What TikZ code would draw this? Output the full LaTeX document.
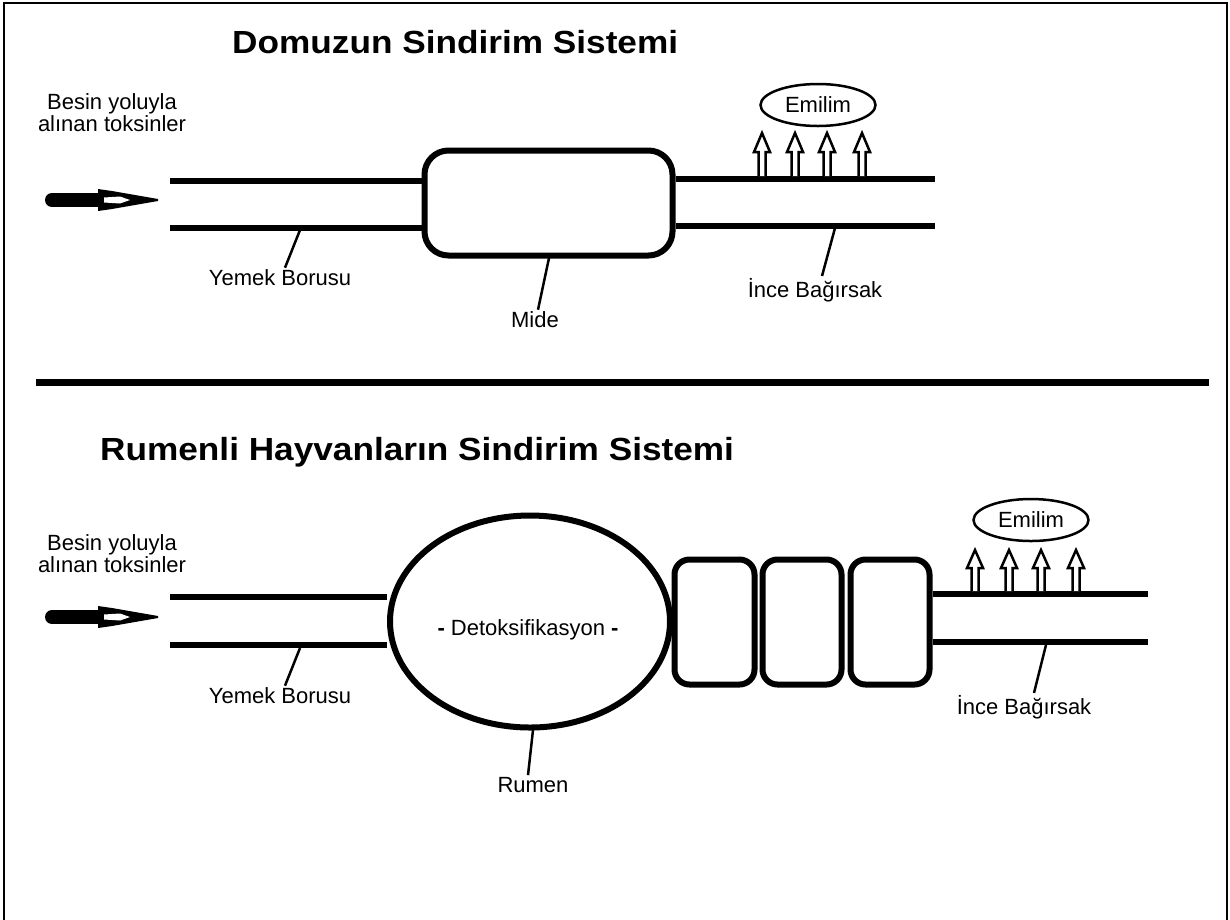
\documentclass[tikz,border=0pt]{standalone}
\usepackage{fontspec}
\setmainfont{Liberation Sans}
\newfontfamily\heavyfont[FakeStretch=1.1]{Liberation Sans}
\usetikzlibrary{shapes.geometric, positioning}

\tikzset{
  tube/.style={line width=6pt},
  organ/.style={draw, line width=6pt, inner sep=0pt},
  lbl/.style={font=\fontsize{22}{25}\selectfont, inner sep=2pt},
  ttl/.style={font=\fontsize{32}{35}\selectfont\heavyfont\bfseries, anchor=west, inner sep=0pt},
  tick/.style={line width=2.5pt},
  absorb/.style={draw, ellipse, line width=2.5pt, minimum width=115pt, minimum height=42pt, inner sep=0pt, font=\fontsize{22}{25}\selectfont},
  hollow/.style={draw, fill=white, line width=2.5pt, line join=miter},
}

\begin{document}
\begin{tikzpicture}[x=1pt, y=-1pt]
  \useasboundingbox (0,0) rectangle (1230,919);
  % frame, open at the bottom
  \draw[line width=2pt] (4,925) -- (4,3) -- (1227,3) -- (1227,925);

  % ---------------- pig ----------------
  \node[ttl] (pigTitle) at (232,42) {Domuzun Sindirim Sistemi};
  \node[lbl, align=center] (pigFood) at (112,113) {Besin yoluyla\\[-3pt]alınan toksinler};
  % input arrow
  \draw[line width=14pt, line cap=round] (52,200) -- (104,200);
  \fill (98,189) -- (112,191) -- (158,199) -- (158,201) -- (112,209) -- (98,211) -- cycle;
  \fill[white] (104,197.5) -- (120,196.5) -- (130,200) -- (120,203.5) -- (104,202.5) -- cycle;
  % stomach
  \node[organ, rounded corners=24pt, minimum width=248pt, minimum height=105pt] (mide) at (548.5,203) {};
  \draw[tube] (170,181) -- (mide.west |- 0,181);
  \draw[tube] (170,228) -- (mide.west |- 0,228);
  \draw[tube] (mide.east |- 0,179) -- (935,179);
  \draw[tube] (mide.east |- 0,226) -- (935,226);
  % absorption
  \node[absorb] (pigAbs) at (818,105) {Emilim};
  \foreach \x in {762,795,827,862}
    \draw[hollow] (\x-3.5,176) -- (\x-3.5,152) -- (\x-8,152) -- (\x,133)
      -- (\x+8,152) -- (\x+3.5,152) -- (\x+3.5,176);
  % labels
  \node[lbl] (pigEso) at (280,278) {Yemek Borusu};
  \node[lbl] (pigSto) at (535,320) {Mide};
  \node[lbl] (pigInt) at (815,290) {İnce Bağırsak};
  \coordinate (pigEsoT) at (300,230);
  \coordinate (pigStoT) at (549,258);
  \coordinate (pigIntT) at (835,228);
  \draw[tick] (pigEsoT) -- ([xshift=5pt]pigEso.north);
  \draw[tick] (pigStoT) -- ([xshift=3pt]pigSto.north);
  \draw[tick] (pigIntT) -- ([xshift=7pt]pigInt.north);

  % divider
  \draw[line width=7pt] (36,382) -- (1209,382);

  % ---------------- ruminant ----------------
  \node[ttl] (rumTitle) at (100,452) {Rumenli Hayvanların Sindirim Sistemi};
  \node[lbl, align=center] (rumFood) at (112,554) {Besin yoluyla\\[-3pt]alınan toksinler};
  % input arrow
  \draw[line width=14pt, line cap=round] (52,617) -- (104,617);
  \fill (98,606) -- (112,608) -- (158,616) -- (158,618) -- (112,626) -- (98,628) -- cycle;
  \fill[white] (104,614.5) -- (120,613.5) -- (130,617) -- (120,620.5) -- (104,619.5) -- cycle;
  % rumen and the other chambers
  \node[organ, ellipse, minimum width=280pt, minimum height=212pt] (rumen) at (530,621.5) {};
  \node[lbl] (detox) at (528,630) {\textbf{-} Detoksifikasyon \textbf{-}};
  \node[organ, rounded corners=15pt, minimum width=80pt, minimum height=125pt] (ch1) at (714.5,622) {};
  \node[organ, rounded corners=15pt, minimum width=79pt, minimum height=125pt] (ch2) at (802,622) {};
  \node[organ, rounded corners=15pt, minimum width=79pt, minimum height=125pt] (ch3) at (890,622) {};
  \draw[tube] (170,597) -- (rumen.west |- 0,597);
  \draw[tube] (170,645) -- (rumen.west |- 0,645);
  \draw[tube] (ch3.east |- 0,594) -- (1148,594);
  \draw[tube] (ch3.east |- 0,642) -- (1148,642);
  % absorption
  \node[absorb] (rumAbs) at (1031,520) {Emilim};
  \foreach \x in {975,1009,1041,1076}
    \draw[hollow] (\x-3.5,591) -- (\x-3.5,568) -- (\x-8,568) -- (\x,550)
      -- (\x+8,568) -- (\x+3.5,568) -- (\x+3.5,591);
  % labels
  \node[lbl] (rumEso) at (280,696) {Yemek Borusu};
  \node[lbl] (rumRum) at (533,785) {Rumen};
  \node[lbl] (rumInt) at (1024,707) {İnce Bağırsak};
  \coordinate (rumEsoT) at (300,648);
  \coordinate (rumRumT) at (533,730);
  \coordinate (rumIntT) at (1046,645);
  \draw[tick] (rumEsoT) -- ([xshift=5pt]rumEso.north);
  \draw[tick] (rumRumT) -- ([xshift=-5pt]rumRum.north);
  \draw[tick] (rumIntT) -- ([xshift=10pt]rumInt.north);
\end{tikzpicture}
\end{document}
